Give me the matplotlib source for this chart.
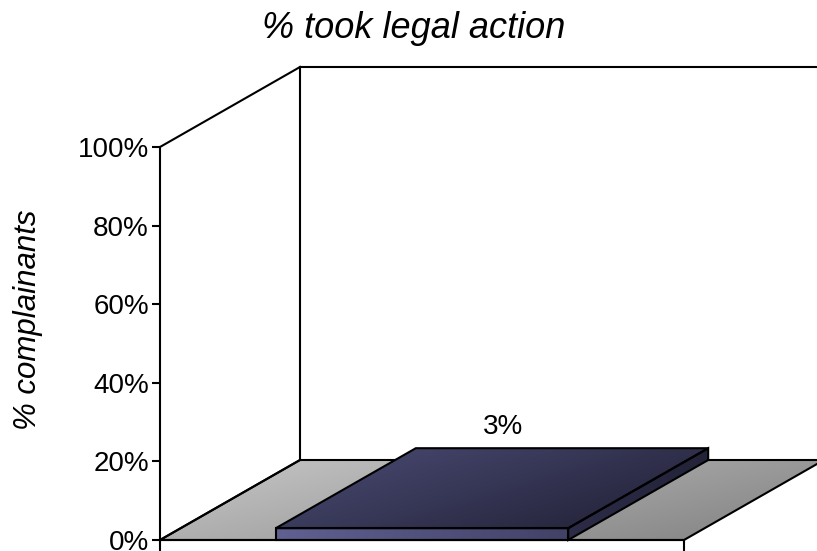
import numpy as np
import matplotlib.pyplot as plt
from matplotlib.patches import Polygon
from matplotlib.ticker import FuncFormatter

# data
categories = ["took legal action"]
values = [3]
yticks = [0, 20, 40, 60, 80, 100]

plt.rcParams['font.family'] = ['Liberation Sans', 'DejaVu Sans']

W, H = 817, 551
LW = 1.5
fig = plt.figure(figsize=(W / 100, H / 100), dpi=100)
# front plane of the 3D box: x 160..684 px, y 540 (0%) .. 147 (100%)
ax = fig.add_axes([160 / W, (H - 540) / H, 524 / W, 393 / H])
ax.set_xlim(0, 1)
ax.set_ylim(0, 100)

# depth offset in data units (140 px right, 80 px up)
dx = 140 / 524
dy = 80 / 393 * 100


def grad_fill(ax, verts, c1, c2, z, angle=(1.0, -0.6)):
    poly = Polygon(verts, closed=True, facecolor='none', edgecolor='none',
                   transform=ax.transData, clip_on=False)
    ax.add_patch(poly)
    xs = [v[0] for v in verts]
    ys = [v[1] for v in verts]
    x0, x1, y0, y1 = min(xs), max(xs), min(ys), max(ys)
    gx, gy = np.meshgrid(np.linspace(0, 1, 200), np.linspace(1, 0, 200))
    t = angle[0] * gx + angle[1] * (1 - gy)
    t = (t - t.min()) / (t.max() - t.min())
    c1 = np.array(c1) / 255
    c2 = np.array(c2) / 255
    img = c1[None, None, :] * (1 - t[..., None]) + c2[None, None, :] * t[..., None]
    im = ax.imshow(img, extent=(x0, x1, y0, y1), aspect='auto', zorder=z,
                   interpolation='bilinear')
    im.set_clip_box(fig.bbox)
    im.set_clip_path(poly)
    ax.add_patch(Polygon(verts, closed=True, facecolor='none', edgecolor='black',
                         lw=LW, zorder=z + 0.1, clip_on=False, joinstyle='miter'))


# floor
floor = [(0, 0), (1, 0), (1 + dx, dy), (dx, dy)]
grad_fill(ax, floor, (200, 200, 200), (128, 128, 128), 1, angle=(1.0, 0.5))

# back wall and side wall outlines
lk = dict(color='black', lw=LW, clip_on=False, zorder=1.5)
ax.plot([dx, dx], [dy, 100 + dy], **lk)
ax.plot([dx, 1 + dx], [100 + dy, 100 + dy], **lk)
ax.plot([0, dx], [100, 100 + dy], **lk)
ax.plot([0, dx], [0, dy], **lk)

# bar
bw = 0.558
for i, v in enumerate(values):
    xc = 0.5 + i
    xl, xr = xc - bw / 2, xc + bw / 2
    top = [(xl, v), (xr, v), (xr + dx, v + dy), (xl + dx, v + dy)]
    side = [(xr, 0), (xr + dx, dy), (xr + dx, v + dy), (xr, v)]
    front = [(xl, 0), (xr, 0), (xr, v), (xl, v)]
    grad_fill(ax, top, (76, 76, 118), (30, 30, 50), 3, angle=(1.0, 0.6))
    grad_fill(ax, side, (44, 44, 72), (34, 34, 56), 3)
    grad_fill(ax, front, (96, 96, 146), (66, 66, 104), 3, angle=(1.0, 0.0))
    ax.text(xc + dx * 0.58, v + dy + 5.4, f"{v}%", ha='center', va='center',
            fontsize=20, zorder=5)

# axes styling
for s in ['top', 'right']:
    ax.spines[s].set_visible(False)
ax.spines['left'].set_linewidth(LW)
ax.spines['bottom'].set_linewidth(LW)
ax.spines['left'].set_zorder(4)
ax.spines['bottom'].set_zorder(4)
ax.set_yticks(yticks)
ax.yaxis.set_major_formatter(FuncFormatter(lambda y, p: f"{int(y)}%"))
ax.tick_params(axis='y', length=6, width=LW, labelsize=20, pad=2)
ax.set_xticks([0, 1])
ax.set_xticklabels([])
ax.tick_params(axis='x', length=8, width=LW)
ax.patch.set_visible(False)

fig.text(414 / W, 1 - 28 / H, "% took legal action", ha='center', va='center',
         fontsize=26, style='italic')
fig.text(28 / W, 1 - 320 / H, "% complainants", ha='center', va='center',
         rotation=90, fontsize=22.5, style='italic')

fig.savefig('out.png', dpi=100)
